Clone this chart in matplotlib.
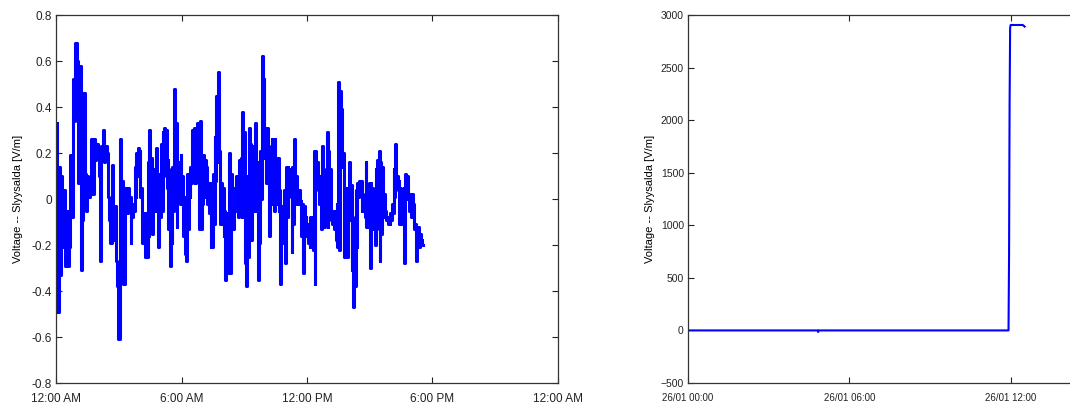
import numpy as np
import matplotlib
matplotlib.use('Agg')
import matplotlib.pyplot as plt

plt.rcParams['font.family'] = ['Liberation Sans', 'DejaVu Sans']

# left panel: noisy voltage, hours since midnight, read in 5 chunks
seg1_hours = (0.03, 3.38)
seg1 = [0.33, -0.49, 0.14, -0.33, 0.10, -0.21, 0.04, -0.29, -0.05, -0.29, -0.21, 0.19, -0.08,
        0.52, 0.34, 0.68, 0.60, 0.07, 0.58, -0.31, -0.09, 0.46, 0.11, -0.05, 0.10, 0.01, 0.04,
        0.26, 0.02, 0.26, 0.17, 0.24, 0.18, 0.10, -0.27, 0.23, 0.30, 0.16, 0.23, 0.20, 0.01,
        -0.09, -0.19, 0.15, -0.18, -0.03, -0.27, -0.38, -0.61, 0.26, -0.13, 0.08, -0.37, 0.05, -0.06]
seg2_hours = (3.39, 6.88)
seg2 = [0.05, -0.06, 0.05, -0.02, 0.01, -0.19, -0.05, -0.08, -0.02, -0.05, 0.14, 0.01, 0.20, 0.10,
        0.22, 0.18, 0.21, 0.01, 0.05, -0.19, -0.06, -0.18, -0.06, -0.25, -0.08, -0.25, 0.16, -0.16,
        0.30, -0.12, 0.18, -0.15, 0.13, -0.02, 0.07, -0.05, 0.22, -0.05, 0.11, -0.21, 0.11, -0.08,
        0.24, -0.05, 0.29, 0.10, 0.31, 0.16, 0.30, 0.05, 0.17, -0.13, 0.01, -0.29, 0.13, -0.19,
        0.14, -0.05, 0.48, -0.03, 0.33, -0.12, 0.16, 0.02, 0.16, -0.02, 0.19, 0.01, 0.10, -0.16,
        0.01, -0.24, -0.13, -0.27, 0.11, -0.13, 0.11, 0.01, 0.14, 0.07, 0.30, 0.08, 0.31, 0.07,
        0.27, 0.10, 0.33, 0.07, 0.21, -0.13]
seg3_hours = (6.9, 10.37)
seg3 = [0.34, -0.13, 0.18, -0.02, 0.19, 0.01, 0.17, 0.02, 0.14, -0.02, 0.07, -0.06, 0.07, -0.21,
        0.00, -0.21, 0.11, -0.11, 0.27, 0.08, 0.45, 0.16, 0.55, 0.23, 0.21, -0.11, 0.07, -0.11,
        0.05, -0.16, -0.05, -0.35, -0.06, -0.32, -0.08, -0.27, 0.20, -0.32, 0.11, -0.13, 0.05,
        -0.13, 0.05, -0.05, 0.10, -0.03, 0.07, -0.08, 0.17, 0.00, 0.18, -0.08, 0.38, 0.14, 0.29,
        -0.28, 0.10, -0.38, 0.10, -0.25, 0.31, -0.02, 0.24, -0.18, 0.23, 0.01, 0.23, -0.05, 0.33,
        -0.02, 0.16, -0.35, 0.16, -0.19, 0.21, 0.00, 0.62, 0.18, 0.52, 0.30, 0.31, 0.07, 0.31,
        0.07, 0.23, -0.16, 0.13, -0.02, 0.26, 0.10]
seg4_hours = (10.39, 13.86)
seg4 = [0.13, -0.05, 0.26, 0.07, 0.18, -0.02, 0.18, -0.05, 0.04, -0.37, -0.03, -0.16, -0.05, -0.19,
        0.04, -0.28, 0.14, -0.08, 0.14, 0.01, 0.13, 0.05, 0.08, -0.23, 0.14, -0.11, 0.26, 0.04,
        0.10, -0.02, 0.04, -0.02, 0.04, -0.02, -0.01, -0.16, -0.02, -0.32, -0.03, -0.16, -0.08,
        -0.13, -0.11, -0.19, -0.11, -0.21, -0.08, -0.21, -0.08, -0.22, 0.21, -0.37, 0.21, 0.07,
        0.16, 0.04, 0.10, -0.02, 0.04, -0.13, 0.23, -0.02, 0.13, -0.12, 0.07, -0.09, 0.29, -0.12,
        0.21, -0.08, 0.13, -0.09, -0.05, -0.11, -0.05, -0.13, -0.05, -0.18, -0.02, -0.21, 0.51,
        -0.22, 0.47, 0.27, 0.39, 0.14, 0.20, -0.25, 0.05, -0.13]
seg5_hours = (13.88, 17.54)
seg5 = [-0.02, -0.25, 0.05, -0.08, 0.16, -0.09, 0.06, -0.31, -0.08, -0.47, -0.13, -0.38, 0.04,
        -0.21, 0.07, 0.01, 0.08, 0.02, 0.08, -0.05, 0.02, -0.05, 0.01, -0.08, 0.16, -0.12, 0.01,
        -0.12, 0.07, -0.30, 0.07, -0.09, 0.05, -0.13, -0.05, -0.20, 0.13, -0.13, 0.17, -0.02,
        0.21, -0.27, 0.16, -0.15, 0.14, -0.02, 0.02, -0.08, -0.05, -0.09, -0.08, -0.11, -0.08,
        -0.11, -0.06, -0.09, -0.02, -0.06, 0.13, 0.01, 0.24, 0.10, 0.10, 0.04, 0.08, -0.11, 0.05,
        -0.11, 0.04, -0.08, 0.05, -0.28, 0.11, 0.00, 0.10, 0.01, 0.02, -0.05, 0.02, -0.08, 0.02,
        -0.05, -0.02, -0.13, -0.11, -0.27, -0.12, -0.19, -0.12, -0.21, -0.15, -0.19, -0.18, -0.20]

left_xticks = [0, 6, 12, 18, 24]
left_xlabels = ['12:00 AM', '6:00 AM', '12:00 PM', '6:00 PM', '12:00 AM']
left_yticks = [0.8, 0.6, 0.4, 0.2, 0, -0.2, -0.4, -0.6, -0.8]
left_ylabels = ['0.8', '0.6', '0.4', '0.2', '0', '-0.2', '-0.4', '-0.6', '-0.8']

# right panel: hours since 26/01 00:00
right_hours = [0, 4.82, 4.84, 4.86, 11.92, 11.94, 11.96, 11.98, 12.0, 12.2, 12.45, 12.52]
right_values = [0, 0, -15, 0, 0, 700, 2150, 2880, 2905, 2905, 2905, 2890]
right_xticks = [0, 6, 12]
right_xlabels = ['26/01 00:00', '26/01 06:00', '26/01 12:00']
right_yticks = [-500, 0, 500, 1000, 1500, 2000, 2500, 3000]

ylabel = 'Voltage -- Slyysalda [V/m]'

left_t = []
left_v = []
for (h0, h1), seg in [(seg1_hours, seg1), (seg2_hours, seg2), (seg3_hours, seg3),
                      (seg4_hours, seg4), (seg5_hours, seg5)]:
    left_t.extend(np.linspace(h0, h1, len(seg)))
    left_v.extend(seg)

fig = plt.figure(figsize=(10.7, 4.05), dpi=100)

ax1 = fig.add_axes([56 / 1070, 22 / 405, 502 / 1070, 368 / 405])
ax1.plot(left_t, left_v, color='#0000ff', lw=2.2, drawstyle='steps-mid')
ax1.set_xlim(0, 24)
ax1.set_ylim(-0.8, 0.8)
ax1.set_xticks(left_xticks)
ax1.set_xticklabels(left_xlabels)
ax1.set_yticks(left_yticks)
ax1.set_yticklabels(left_ylabels)
ax1.set_ylabel(ylabel, fontsize=8, labelpad=6)

ax2 = fig.add_axes([688 / 1070, 22 / 405, 484 / 1070, 368 / 405])
ax2.plot(right_hours, right_values, color='#0000ff', lw=1.5)
ax2.set_xlim(0, 18)
ax2.set_ylim(-500, 3000)
ax2.set_xticks(right_xticks)
ax2.set_xticklabels(right_xlabels)
ax2.set_yticks(right_yticks)
ax2.set_ylabel(ylabel, fontsize=8, labelpad=4)

for ax in (ax1, ax2):
    ax.tick_params(direction='in', length=4, width=0.8, top=True, right=True,
                   labelsize=8.5, pad=3, colors='#222222')
    ax.tick_params(axis='x', pad=7)
    for sp in ax.spines.values():
        sp.set_linewidth(0.9)
        sp.set_color('#333333')
ax2.tick_params(axis='x', labelsize=7)
ax2.tick_params(axis='y', labelsize=7.5)

fig.savefig('out.png', dpi=100)
